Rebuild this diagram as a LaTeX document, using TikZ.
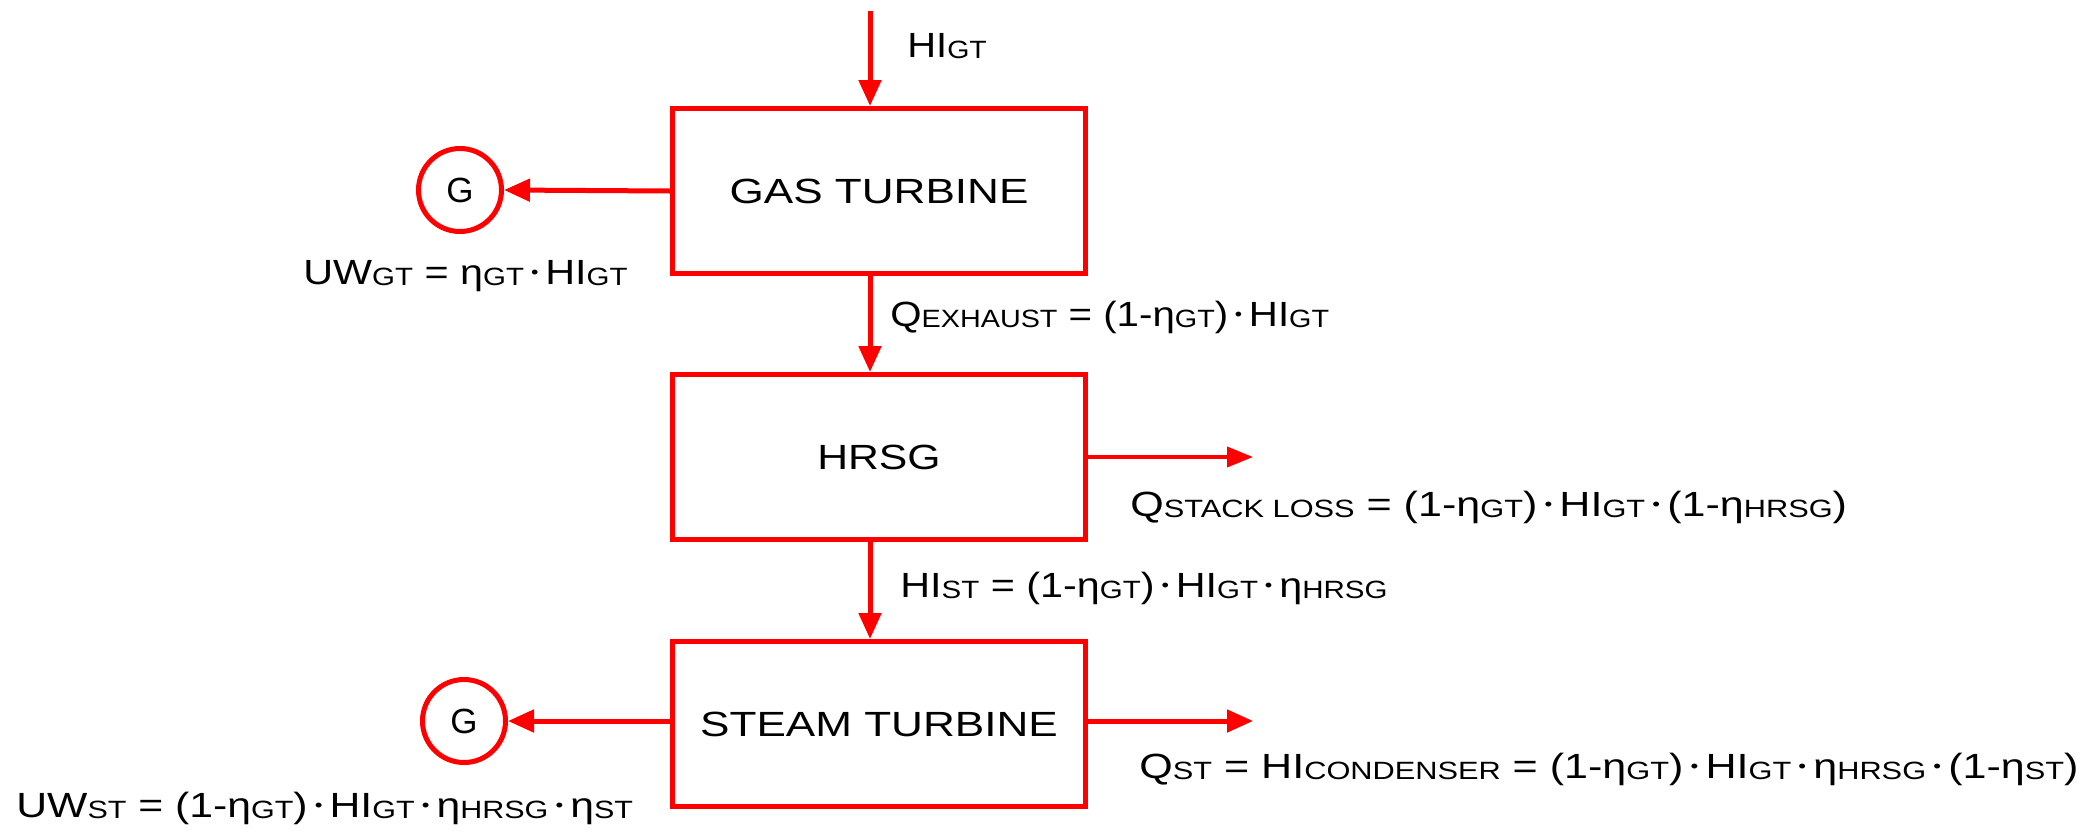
\documentclass[tikz,border=0pt]{standalone}
\usepackage{fontspec}
\setmainfont{Liberation Sans}
\usetikzlibrary{arrows.meta}
\definecolor{pred}{RGB}{255,0,0}
\newcommand\lo[1]{\raisebox{-0.05em}{\fontsize{12.5}{14}\selectfont #1}}
\newcommand\dt{\,\raisebox{2.6pt}{\fontsize{9}{9}\selectfont •}\,}
\newcommand\sx[2]{\scalebox{#1}[1]{#2}}
\tikzset{
  blk/.style={draw=pred, line width=2.5pt, minimum width=206.5pt, minimum height=82.5pt, inner sep=0pt,
    font=\fontsize{17.5}{20}\selectfont},
  gen/.style={draw=pred, line width=2.5pt, circle, minimum size=41.5pt, inner sep=0pt,
    font=\fontsize{17.5}{20}\selectfont},
  flow/.style={draw=pred, line width=2.5pt, -{Triangle[length=13pt,width=11pt]}},
  thinflow/.style={draw=pred, line width=2pt, -{Triangle[length=13pt,width=10pt]}},
  lbl/.style={inner sep=0pt, anchor=base west, font=\fontsize{17.5}{20}\selectfont},
}
\begin{document}
\begin{tikzpicture}[x=0.5pt,y=-0.5pt]
\useasboundingbox (0,0) rectangle (2089,831);
% blocks
\node[blk] (gt) at (879,191) {\sx{1.26}{GAS TURBINE}};
\node[blk] (hrsg) at (879,457) {\sx{1.22}{HRSG}};
\node[blk] (st) at (879,724) {\sx{1.26}{STEAM TURBINE}};
% generators
\node[gen] (g1) at (460,190) {G};
\node[gen] (g2) at (464,721) {G};
% free ends
\coordinate (in) at (870,11);
\coordinate (stack) at (1253,457);
\coordinate (cond) at (1253,721);
% connectors
\draw[flow] (in) -- (gt.north -| in);
\draw[flow] (gt.south -| in) -- (hrsg.north -| in);
\draw[flow] (hrsg.south -| in) -- (st.north -| in);
\draw[flow] (gt.west) -- (g1.east);
\draw[flow] (st.west |- g2) -- (g2.east);
\draw[thinflow] (hrsg.east) -- (stack);
\draw[flow] (st.east |- cond) -- (cond);
% labels
\node[lbl] (l1) at (907,57) {\sx{1.14}{HI\lo{GT}}};
\node[lbl] (l2) at (303,284) {\sx{1.18}{UW\lo{GT} = η\lo{GT}\dt HI\lo{GT}}};
\node[lbl] (l3) at (890,326) {\sx{1.15}{Q\lo{EXHAUST} = (1-η\lo{GT})\dt HI\lo{GT}}};
\node[lbl] (l4) at (1130,516) {\sx{1.23}{Q\lo{STACK LOSS} = (1-η\lo{GT})\dt HI\lo{GT}\dt(1-η\lo{HRSG})}};
\node[lbl] (l5) at (900,597) {\sx{1.18}{HI\lo{ST} = (1-η\lo{GT})\dt HI\lo{GT}\dt η\lo{HRSG}}};
\node[lbl] (l6) at (1139,778) {\sx{1.23}{Q\lo{ST} = HI\lo{CONDENSER} = (1-η\lo{GT})\dt HI\lo{GT}\dt η\lo{HRSG}\dt(1-η\lo{ST})}};
\node[lbl] (l7) at (16,817) {\sx{1.22}{UW\lo{ST} = (1-η\lo{GT})\dt HI\lo{GT}\dt η\lo{HRSG}\dt η\lo{ST}}};
\end{tikzpicture}
\end{document}
